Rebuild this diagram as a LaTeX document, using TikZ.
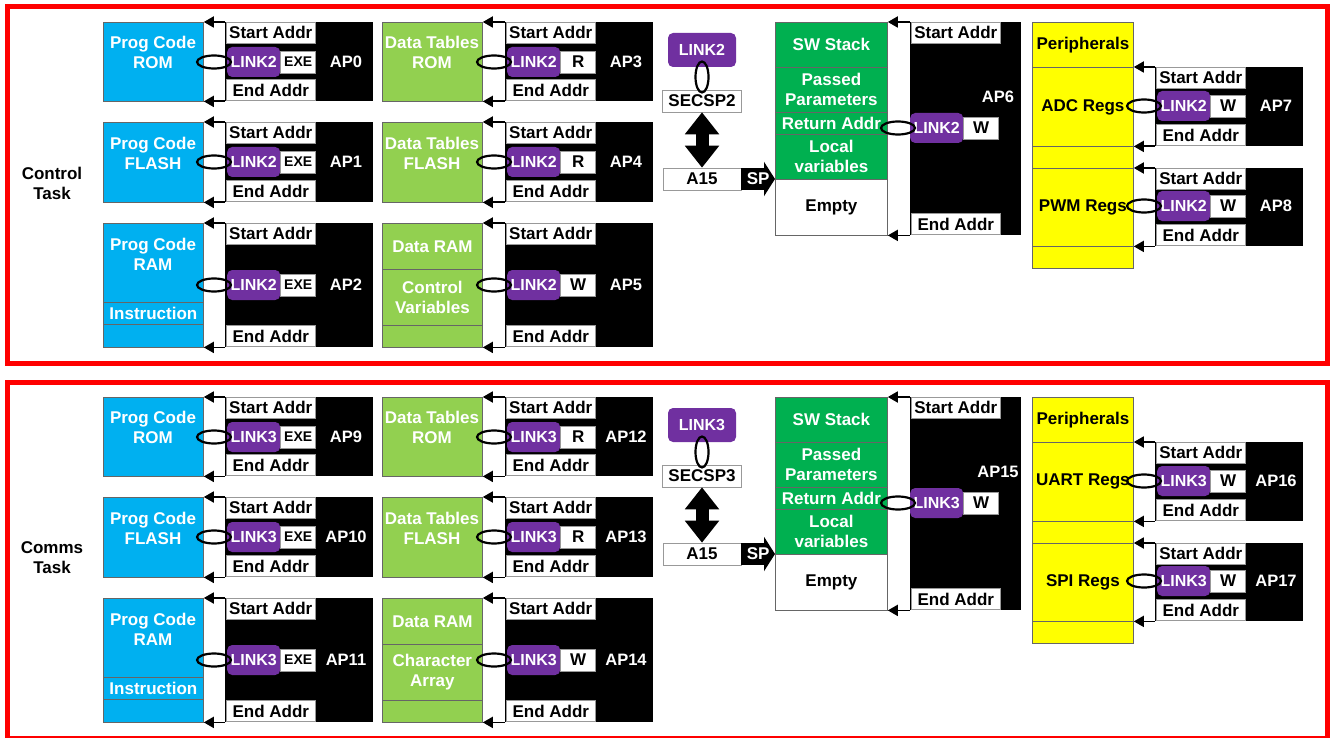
\documentclass[tikz,border=0pt]{standalone}
\usepackage{fontspec}
\setmainfont{Liberation Sans}
\usetikzlibrary{arrows.meta,shapes.geometric}

\definecolor{memblue}{HTML}{00B0F0}
\definecolor{datgreen}{HTML}{92D050}
\definecolor{stkgreen}{HTML}{00B050}
\definecolor{perylw}{HTML}{FFFF00}
\definecolor{linkpurple}{HTML}{7030A0}

\newcommand{\exefont}{\fontsize{14}{16}\selectfont}

% access window: #1 name, #2 memory node, #3 x, #4 top, #5 bottom,
% #6 link row, #7 access, #8 AP number, #9 link number
\newcommand{\apwin}[9]{%
  \node[apbox,anchor=north west,minimum height={(#5)-(#4)}] (#1) at (#3,#4) {};
  \node[addrbox,anchor=north west] (#1s) at (#3+1,#4) {Start Addr};
  \node[addrbox,anchor=south west] (#1e) at (#3+1,#5) {End Addr};
  \node[linktag,anchor=west] (#1l) at (#3+2,#6) {LINK#9};
  \node[accbox,anchor=west] (#1a) at (#1l.east) {#7};
  \node[aplabel] (#1t) at (#3+121,#6) {AP#8};
  \draw[ptrarrow] (#1.north west) -- (#1.north west -| #2.east);
  \draw[ptrarrow] (#1.south west) -- (#1.south west -| #2.east);
  \node[ringmark] (#1r) at (#3-11,#6) {};
}

\begin{document}
\begin{tikzpicture}[
  x=1pt,y=-1pt,
  every node/.style={font=\bfseries\fontsize{17}{20}\selectfont,inner sep=0pt},
  memcell/.style={draw=black!60,line width=0.8pt,anchor=north west,
    minimum width=100pt,align=center,text=white},
  memtext/.style={align=center,text=white},
  apbox/.style={fill=black,minimum width=148pt},
  addrbox/.style={fill=white,draw=black!40,line width=0.6pt,
    minimum width=89pt,minimum height=21pt},
  linktag/.style={fill=linkpurple,text=white,rounded corners=5pt,
    minimum width=53pt,minimum height=30pt,
    font=\bfseries\fontsize{16}{18}\selectfont},
  accbox/.style={fill=white,draw=black!40,line width=0.6pt,
    minimum width=35pt,minimum height=22pt},
  aplabel/.style={text=white,font=\bfseries\fontsize{16.5}{18}\selectfont},
  ringmark/.style={ellipse,draw,line width=2.2pt,minimum width=34pt,
    minimum height=13pt},
  ptrarrow/.style={line width=1.8pt,-{Triangle[length=10pt,width=11pt]}},
  dblarrow/.style={line width=13pt,
    {Triangle[length=22pt,width=33pt]}-{Triangle[length=22pt,width=33pt]}},
  sparrow/.style={line width=22pt,-{Triangle[length=11pt,width=34pt]}},
  redframe/.style={draw=red,line width=5pt}
]
  \useasboundingbox (0,0) rectangle (1330,738);

  \foreach \dy/\lk/\n/\task/\var/\rega/\regb in
    {0/2/0/Control/{Control\\Variables}/ADC/PWM,
     375/3/9/Comms/{Character\\Array}/UART/SPI}{
  \begin{scope}[yshift=-\dy pt]
    \draw[redframe] (7.5,7) rectangle (1327,363);
    \node[align=center] (task\lk) at (52,183) {\task\\Task};

    % program memories
    \node[memcell,fill=memblue,minimum height=79pt] (prom\lk) at (103,22) {};
    \node[memtext] (promt\lk) at (153,52) {Prog Code\\ROM};
    \node[memcell,fill=memblue,minimum height=80pt] (pfl\lk) at (103,122) {};
    \node[memtext] (pflt\lk) at (153,153) {Prog Code\\FLASH};
    \node[memcell,fill=memblue,minimum height=124pt] (pram\lk) at (103,223) {};
    \node[memtext] (pramt\lk) at (153,254) {Prog Code\\RAM};
    \node[memcell,fill=memblue,minimum height=22pt] (ins\lk) at (103,302) {Instruction};

    % data memories
    \node[memcell,fill=datgreen,minimum height=79pt] (drom\lk) at (382,22) {};
    \node[memtext] (dromt\lk) at (432,52) {Data Tables\\ROM};
    \node[memcell,fill=datgreen,minimum height=80pt] (dfl\lk) at (382,122) {};
    \node[memtext] (dflt\lk) at (432,153) {Data Tables\\FLASH};
    \node[memcell,fill=datgreen,minimum height=124pt] (dram\lk) at (382,223) {};
    \node[memcell,fill=datgreen,minimum height=46pt] (dhead\lk) at (382,223) {Data RAM};
    \node[memcell,fill=datgreen,minimum height=56pt] (dvar\lk) at (382,269) {\var};

    \apwin{wa\lk}{prom\lk}{225}{22}{101}{62}{\exefont EXE}{\n}{\lk}
    \apwin{wb\lk}{pfl\lk}{225}{122}{202}{162}{\exefont EXE}{\the\numexpr\n+1\relax}{\lk}
    \apwin{wc\lk}{pram\lk}{225}{223}{347}{285}{\exefont EXE}{\the\numexpr\n+2\relax}{\lk}
    \apwin{wd\lk}{drom\lk}{505}{22}{101}{62}{R}{\the\numexpr\n+3\relax}{\lk}
    \apwin{we\lk}{dfl\lk}{505}{122}{202}{162}{R}{\the\numexpr\n+4\relax}{\lk}
    \apwin{wg\lk}{dram\lk}{505}{223}{347}{285}{W}{\the\numexpr\n+5\relax}{\lk}

    % stack
    \node[memcell,fill=stkgreen,minimum width=112pt,minimum height=45pt] (sws\lk) at (775,22) {SW Stack};
    \node[memcell,fill=stkgreen,minimum width=112pt,minimum height=45pt] (pp\lk) at (775,67) {Passed\\Parameters};
    \node[memcell,fill=stkgreen,minimum width=112pt,minimum height=22pt] (ret\lk) at (775,112) {Return Addr};
    \node[memcell,fill=stkgreen,minimum width=112pt,minimum height=45pt] (loc\lk) at (775,134) {Local\\variables};
    \node[memcell,fill=white,text=black,minimum width=112pt,minimum height=56pt] (emp\lk) at (775,179) {Empty};

    \node[apbox,anchor=north west,minimum width=111pt,minimum height=213pt] (wf\lk) at (910,22) {};
    \node[addrbox,anchor=north west] (wfs\lk) at (911,22) {Start Addr};
    \node[addrbox,anchor=south west] (wfe\lk) at (911,235) {End Addr};
    \node[linktag,anchor=west] (wfl\lk) at (910,128) {LINK\lk};
    \node[accbox,anchor=west] (wfa\lk) at (wfl\lk.east) {W};
    \node[aplabel] (wft\lk) at (998,97) {AP\the\numexpr\n+6\relax};
    \draw[ptrarrow] (wf\lk.north west) -- (wf\lk.north west -| sws\lk.east);
    \draw[ptrarrow] (wf\lk.south west) -- (wf\lk.south west -| sws\lk.east);
    \node[ringmark] (wfr\lk) at (898,128) {};

    % stack pointer
    \node[linktag,minimum width=68pt,minimum height=34pt] (tag\lk) at (702,50) {LINK\lk};
    \node[addrbox,minimum width=79pt,minimum height=22pt] (sec\lk) at (702,101) {SECSP\lk};
    \node[addrbox,minimum width=78pt,minimum height=22pt] (a15\lk) at (702,179) {A15};
    \draw[dblarrow] (sec\lk.south) -- (a15\lk.north);
    \draw[sparrow] (a15\lk.east) -- (a15\lk.east -| emp\lk.west)
      node[midway,text=white] (sp\lk) {SP};
    \node[ringmark,minimum width=13pt,minimum height=31pt] (vr\lk) at (702,77) {};

    % peripherals
    \node[memcell,fill=perylw,minimum width=101pt,minimum height=246pt] (per\lk) at (1032,22) {};
    \node[memcell,fill=perylw,text=black,minimum width=101pt,minimum height=45pt] (pert\lk) at (1032,22) {Peripherals};
    \node[memcell,fill=perylw,text=black,minimum width=101pt,minimum height=79pt] (rga\lk) at (1032,67) {\rega{} Regs};
    \node[memcell,fill=perylw,text=black,minimum width=101pt,minimum height=78pt] (rgb\lk) at (1032,168) {\regb{} Regs};

    \apwin{wh\lk}{rga\lk}{1155}{67}{146}{106}{W}{\the\numexpr\n+7\relax}{\lk}
    \apwin{wi\lk}{rgb\lk}{1155}{168}{246}{206}{W}{\the\numexpr\n+8\relax}{\lk}
  \end{scope}
  }
\end{tikzpicture}
\end{document}
